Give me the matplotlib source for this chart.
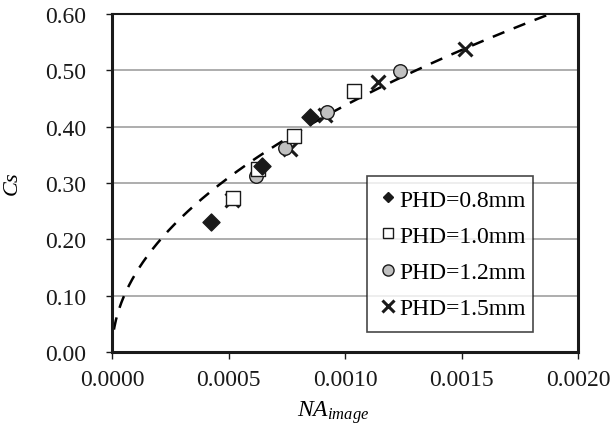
import numpy as np
import matplotlib
matplotlib.use("Agg")
import matplotlib.pyplot as plt
from matplotlib.lines import Line2D

FONT = 'Liberation Serif'
plt.rcParams['font.family'] = 'serif'
plt.rcParams['font.serif'] = [FONT]
plt.rcParams['mathtext.fontset'] = 'custom'
plt.rcParams['mathtext.it'] = FONT + ':italic'
plt.rcParams['mathtext.rm'] = FONT

# Data
na_08 = [0.000427, 0.000642, 0.000849]
cs_08 = [0.230, 0.330, 0.417]
na_10 = [0.000520, 0.000625, 0.000780, 0.001038]
cs_10 = [0.273, 0.325, 0.383, 0.464]
na_12 = [0.000616, 0.000742, 0.000923, 0.001235]
cs_12 = [0.313, 0.363, 0.426, 0.498]
na_15 = [0.000515, 0.000763, 0.000913, 0.001142, 0.001514]
cs_15 = [0.270, 0.360, 0.420, 0.479, 0.538]
labels = ["PHD=0.8mm", "PHD=1.0mm", "PHD=1.2mm", "PHD=1.5mm"]
trend_a = 13.84
trend_b = 0.5

W, H = 611, 431
fig = plt.figure(figsize=(W/100, H/100), dpi=100)
ax = fig.add_axes([112/W, 1-353/H, 466/W, 338/H])

for y in np.arange(0.1, 0.61, 0.1):
    ax.axhline(y, color='#a0a0a0', lw=1.2, zorder=0)

xt = np.linspace(0, 0.0020, 600)
ax.plot(xt, trend_a * xt**trend_b, ls=(0, (5, 4)), color='black', lw=1.8, zorder=1)

dark = '#1a1a1a'
ax.scatter(na_15, cs_15, marker='x', s=100, color=dark, linewidths=2.2, zorder=2)
ax.scatter(na_12, cs_12, marker='o', s=95, facecolor='#c0c0c0', edgecolor=dark, linewidths=1.0, zorder=3)
ax.scatter(na_10, cs_10, marker='s', s=88, facecolor='white', edgecolor=dark, linewidths=1.0, zorder=4)
ax.scatter(na_08, cs_08, marker='D', s=75, facecolor=dark, edgecolor=dark, linewidths=1.0, zorder=5)

ax.set_xlim(0, 0.0020)
ax.set_ylim(0, 0.60)
xticks = np.arange(0, 0.00201, 0.0005)
yticks = np.arange(0, 0.601, 0.1)
ax.set_xticks(xticks)
ax.set_xticklabels([f"{v:.4f}" for v in xticks], family=FONT, fontsize=17)
ax.set_yticks(yticks)
ax.set_yticklabels([f"{v:.2f}" for v in yticks], family=FONT, fontsize=17)
ax.tick_params(axis='y', direction='out', length=4.5, width=1.0, colors=dark, pad=14)
ax.tick_params(axis='x', direction='out', length=5, width=1.0, colors=dark, pad=7)
for name, s in ax.spines.items():
    s.set_linewidth(1.5 if name == 'top' else 2.2)
    s.set_color(dark)

fig.text(333/W, 1-413/H, r'$NA_{image}$', fontsize=17, ha='center', va='center')
fig.text(13/W, 1-185/H, r'$Cs$', fontsize=16, ha='center', va='center', rotation=90)

handles = [
    Line2D([], [], ls='none', marker='D', markersize=5.2, markerfacecolor=dark, markeredgecolor=dark),
    Line2D([], [], ls='none', marker='s', markersize=7.0, markerfacecolor='white', markeredgecolor=dark, markeredgewidth=1.0),
    Line2D([], [], ls='none', marker='o', markersize=8.0, markerfacecolor='#c0c0c0', markeredgecolor=dark, markeredgewidth=1.0),
    Line2D([], [], ls='none', marker='x', markersize=8.0, markeredgecolor=dark, markeredgewidth=2.2),
]
leg = ax.legend(handles, labels,
                loc='upper left', bbox_to_anchor=(0.5466, 0.0769, 0.3568, 0.4438),
                mode='expand', prop={'family': FONT, 'size': 17}, frameon=True, fancybox=False,
                edgecolor=dark, handletextpad=0.1, handlelength=0.73,
                borderaxespad=0, labelspacing=0.62, borderpad=0.55)
leg.get_frame().set_linewidth(1.2)

fig.savefig("out.png", dpi=100)
